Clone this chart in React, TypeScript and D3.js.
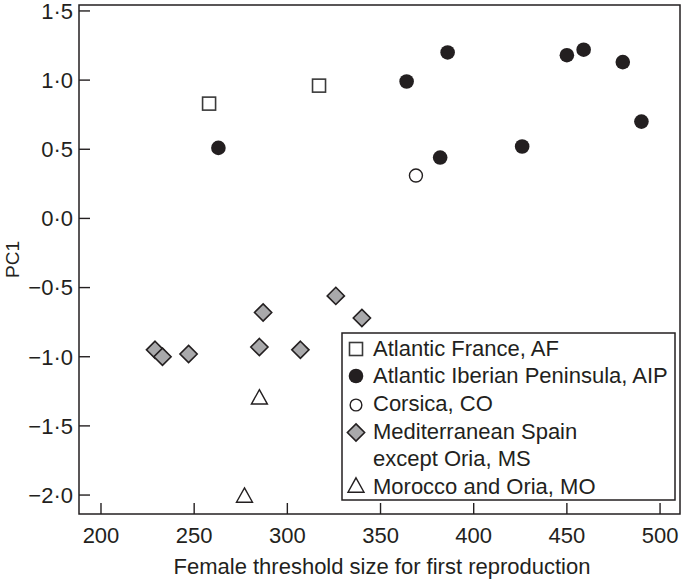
import React from "react";
import * as d3 from "d3";

const xTicks = [200, 250, 300, 350, 400, 450, 500];
const yTicks = [1.5, 1.0, 0.5, 0.0, -0.5, -1.0, -1.5, -2.0];

const afX = [258, 317];
const afY = [0.83, 0.96];
const aipX = [263, 364, 382, 386, 426, 450, 459, 480, 490];
const aipY = [0.51, 0.99, 0.44, 1.2, 0.52, 1.18, 1.22, 1.13, 0.7];
const coX = [369];
const coY = [0.31];
const msX = [229, 233, 247, 285, 287, 307, 326, 340];
const msY = [-0.95, -1.0, -0.98, -0.93, -0.68, -0.95, -0.56, -0.72];
const moX = [285, 277];
const moY = [-1.29, -2.0];

const legendLabels = [
  ["Atlantic France, AF"],
  ["Atlantic Iberian Peninsula, AIP"],
  ["Corsica, CO"],
  ["Mediterranean Spain", "except Oria, MS"],
  ["Morocco and Oria, MO"],
];
const legendShapes = ["square", "filled", "open", "diamond", "triangle"];

const W = 683;
const H = 580;
const M = { left: 79, right: 3, top: 5, bottom: 66 };
const INK = "#231f20";
const FONT = "'Liberation Sans', Arial, Helvetica, sans-serif";

function fmt(v: number) {
  const s = Math.abs(v).toFixed(1).replace(".", "\u00b7");
  return (v < 0 ? "\u2212" : "") + s;
}

function Marker({ shape, cx, cy, s = 1 }: { shape: string; cx: number; cy: number; s?: number }) {
  if (shape === "square") {
    const a = 13 * s;
    return <rect x={cx - a / 2} y={cy - a / 2} width={a} height={a} fill="#fff" stroke="#3a3a3a" strokeWidth={1.6} />;
  }
  if (shape === "filled") {
    return <circle cx={cx} cy={cy} r={7.3 * s} fill={INK} />;
  }
  if (shape === "open") {
    return <circle cx={cx} cy={cy} r={6.5 * s} fill="#fff" stroke={INK} strokeWidth={1.4} />;
  }
  if (shape === "diamond") {
    const r = 8.6 * s;
    const p = `M${cx},${cy - r}L${cx + r},${cy}L${cx},${cy + r}L${cx - r},${cy}Z`;
    return <path d={p} fill="#a9a9ab" stroke={INK} strokeWidth={1.6} strokeLinejoin="miter" />;
  }
  const hw = 8 * s;
  const hh = 7.2 * s;
  const p = `M${cx},${cy - hh}L${cx + hw},${cy + hh}L${cx - hw},${cy + hh}Z`;
  return <path d={p} fill="#fff" stroke={INK} strokeWidth={1.4} />;
}

export default function App() {
  const x = d3.scaleLinear().domain([188.2, 510.7]).range([M.left, W - M.right]);
  const y = d3.scaleLinear().domain([-2.137, 1.543]).range([H - M.bottom, M.top]);
  const x0 = M.left;
  const x1 = W - M.right;
  const y0 = M.top;
  const y1 = H - M.bottom;

  const series = [
    { shape: "square", xs: afX, ys: afY },
    { shape: "filled", xs: aipX, ys: aipY },
    { shape: "open", xs: coX, ys: coY },
    { shape: "diamond", xs: msX, ys: msY },
    { shape: "triangle", xs: moX, ys: moY },
  ];

  const lgX = 342;
  const lgY = 333;
  const lgW = 333;
  const lgH = 167;
  const rowBase = [355.5, 383, 411, 438.5, 466, 493.5];
  const markerY = [349, 376, 405, 432.5, 485];
  let row = 0;

  return (
    <svg width={W} height={H} style={{ position: "absolute", left: 0, top: 0, background: "#fff" }} fontFamily={FONT}>
      <rect x={0} y={0} width={W} height={H} fill="#fff" />
      {yTicks.map((t) => (
        <g key={"y" + t}>
          <line x1={x0} x2={x0 + 11} y1={y(t)} y2={y(t)} stroke={INK} strokeWidth={1.4} />
          <text x={73} y={y(t)} dy="0.36em" textAnchor="end" fontSize={22} fill={INK}>
            {fmt(t)}
          </text>
        </g>
      ))}
      {xTicks.map((t) => (
        <g key={"x" + t}>
          <line x1={x(t)} x2={x(t)} y1={y1} y2={y1 - 11} stroke={INK} strokeWidth={1.4} />
          <text x={x(t)} y={542.5} textAnchor="middle" fontSize={22} fill={INK}>
            {t}
          </text>
        </g>
      ))}
      <rect x={x0} y={y0} width={x1 - x0} height={y1 - y0} fill="none" stroke={INK} strokeWidth={1.5} />
      <text x={382} y={573.5} textAnchor="middle" fontSize={22} fill={INK}>
        Female threshold size for first reproduction
      </text>
      <text transform={`translate(18.5,${(y0 + y1) / 2}) rotate(-90)`} textAnchor="middle" fontSize={19} fill={INK}>
        PC1
      </text>
      {series.map((s) =>
        s.xs.map((v, i) => <Marker key={s.shape + i} shape={s.shape} cx={x(v)} cy={y(s.ys[i])} />)
      )}
      <rect x={lgX} y={lgY} width={lgW} height={lgH} fill="#fff" stroke={INK} strokeWidth={1.5} />
      {legendLabels.map((lines, i) => {
        const els = lines.map((ln, j) => {
          const b = rowBase[row++];
          return (
            <text key={j} x={373} y={b} fontSize={22} fill={INK}>
              {ln}
            </text>
          );
        });
        return (
          <g key={"lg" + i}>
            <Marker shape={legendShapes[i]} cx={356} cy={markerY[i]} s={i === 2 ? 0.9 : 1} />
            {els}
          </g>
        );
      })}
    </svg>
  );
}
